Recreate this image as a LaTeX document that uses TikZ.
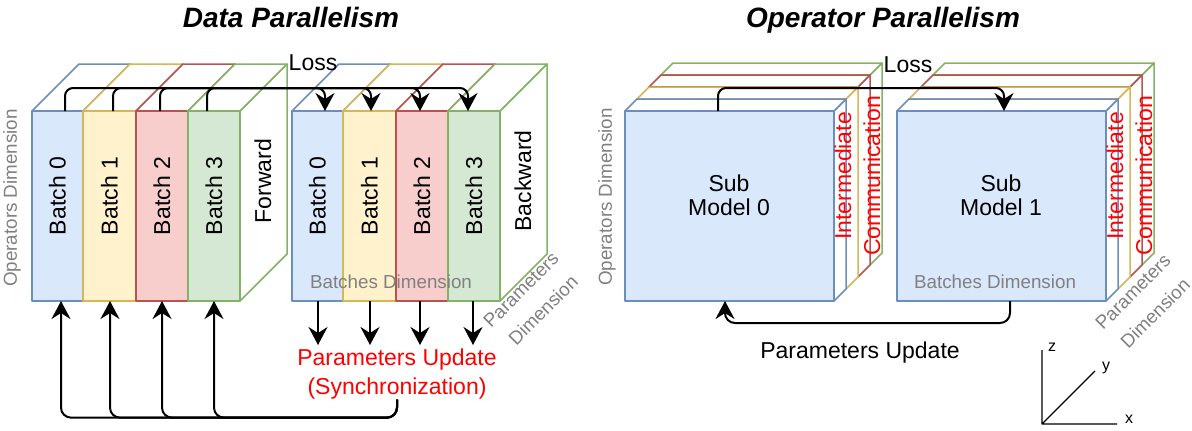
\documentclass[tikz,border=0pt]{standalone}
\usepackage{fontspec}
\setmainfont{Liberation Sans}
\usetikzlibrary{arrows.meta}
\definecolor{blueD}{HTML}{6C8EBF}\definecolor{blueF}{HTML}{DAE8FC}
\definecolor{yellowD}{HTML}{D6B656}\definecolor{yellowF}{HTML}{FFF2CC}
\definecolor{redD}{HTML}{B85450}\definecolor{redF}{HTML}{F8CECC}
\definecolor{greenD}{HTML}{82B366}\definecolor{greenF}{HTML}{D5E8D4}
\definecolor{dimgray}{HTML}{808080}
\definecolor{updred}{HTML}{FF0000}
\begin{document}
\begin{tikzpicture}[x=0.5pt,y=-0.5pt,line join=round,
 >={Stealth[length=9pt,width=9.5pt,inset=3pt]},
 flow/.style={->,line width=1pt,rounded corners=4pt},
 slab/.style={line width=0.75pt},
 txt/.style={font=\fontsize{11.5}{12}\selectfont,inner sep=0pt},
 dimtxt/.style={font=\fontsize{9.4}{11}\selectfont,text=dimgray,inner sep=0pt},
 title/.style={font=\fontsize{14}{17}\selectfont\bfseries\itshape,inner sep=0pt,anchor=base}]
\useasboundingbox (0,0) rectangle (1192,430);
\node[title] (dp) at (291,27) {Data Parallelism};
\node[title] (op) at (883,27) {Operator Parallelism};
% data parallelism
\foreach \s/\n/\o in {f/Forward/0,b/Backward/260}{
 \foreach \i/\a/\b/\c in {0/32/83/blue,1/83/136/yellow,2/136/188/red,3/188/240/green}{
  \draw[slab,\c D,fill=white](\b+\o,111)--++(47,-47)--++(0,190)--(\b+\o,301)--cycle;
  \draw[slab,\c D,fill=white](\a+\o,111)--++(47,-47)--(\b+\o+47,64)--(\b+\o,111)--cycle;
  \draw[slab,\c D,fill=\c F](\a+\o,111)rectangle(\b+\o,301);
  \node[txt,rotate=90] (\s\i) at ({(\a+\b)/2+\o},196) {Batch \i};
 }
 \node[txt,rotate=90] (\s side) at (263+\o,181) {\n};
}
\node[dimtxt,rotate=90] (odl) at (12,198) {Operators Dimension};
\node[dimtxt] (bdl) at (391,282) {Batches Dimension};
\node[dimtxt,rotate=45] (pdl) at (521,290) {Parameters};
\node[dimtxt,rotate=45] (ddl) at (543,310) {Dimension};
\node[txt] (loss1) at (313,63) {Loss};
\node[txt,text=updred,align=center,font=\fontsize{11.5}{14.5}\selectfont] (sync) at (397,374) {Parameters Update\\(Synchronization)};
\foreach \i/\p/\q/\u/\d in {0/65/325/61/318,1/113/371/110/370,2/160/420/162/420,3/207/468/214/473}{
 \coordinate (fl\i) at (\p,111); \coordinate (bl\i) at (\q,111);
 \coordinate (fu\i) at (\u,301); \coordinate (bu\i) at (\d,301); \coordinate (pu\i) at (\d,345);
 \draw[flow](fl\i)--++(0,-23)-|(bl\i);
 \draw[flow](bu\i)--(pu\i);
 \draw[flow,rounded corners=5pt](sync.south)--++(0,18)-|(fu\i);
}
% operator parallelism
\foreach \m/\o in {0/0,1/272}{
 \foreach \k/\c in {3/green,2/red,1/yellow,0/blue}{
  \draw[slab,\c D,fill=white](834+12*\k+\o,111-12*\k)--++(12,-12)--++(0,190)--++(-12,12)--cycle;
  \draw[slab,\c D,fill=white](625+12*\k+\o,111-12*\k)--++(12,-12)--++(209,0)--++(-12,12)--cycle;
  \draw[slab,\c D,fill=\c F](625+12*\k+\o,111-12*\k)rectangle++(209,190);
 }
 \node[txt,align=center] (sm\m) at (729+\o,195) {Sub\\Model \m};
 \node[txt,rotate=90,text=updred] (im\m) at (843+\o,176) {Intermediate};
 \node[txt,rotate=90,text=updred] (cm\m) at (872+\o,176) {Communication};
}
\node[dimtxt,rotate=90] (odr) at (607,197) {Operators Dimension};
\node[dimtxt] (bdr) at (995,282) {Batches Dimension};
\node[dimtxt,rotate=45] (pdr) at (1133,292) {Parameters};
\node[dimtxt,rotate=45] (ddr) at (1155,313) {Dimension};
\node[txt] (loss2) at (908,65) {Loss};
\node[txt,anchor=base] (upd) at (860,358) {Parameters Update};
\coordinate (ol) at (718,111); \coordinate (ot) at (1004,111);
\coordinate (ou) at (1010,301); \coordinate (ud) at (725,301);
\draw[flow](ol)--++(0,-23)-|(ot);
\draw[flow,rounded corners=5pt](ou)--++(0,22)-|(ud);
% axes
\coordinate (o) at (1042,424);
\draw[line width=0.6pt](1042,350)--(o)--(1117,424)(o)--(1095,371);
\node[font=\fontsize{8}{9}\selectfont,inner sep=0pt] (az) at (1052,347) {z};
\node[font=\fontsize{8}{9}\selectfont,inner sep=0pt] (ay) at (1106,368) {y};
\node[font=\fontsize{8}{9}\selectfont,inner sep=0pt] (ax) at (1129,419) {x};
\end{tikzpicture}
\end{document}
